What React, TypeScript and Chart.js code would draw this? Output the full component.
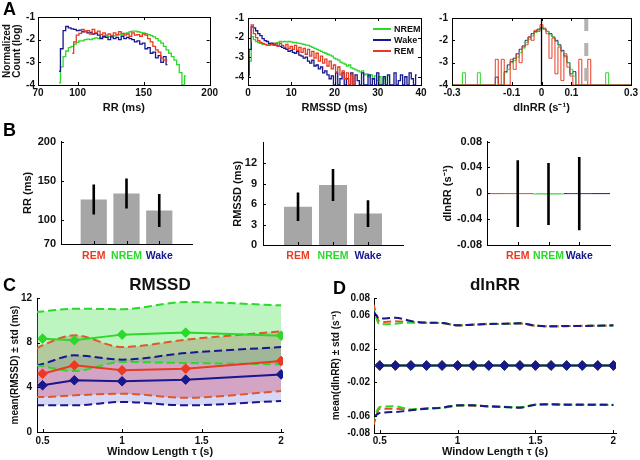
import React, { useEffect, useRef } from 'react';
import { Chart, registerables } from 'chart.js';

Chart.register(...registerables);

const NARROW = "'Liberation Sans Narrow','Arial Narrow','Liberation Sans',Arial,sans-serif";
const SANS = "'Liberation Sans',Arial,Helvetica,sans-serif";
const INK = '#111111';

const RED = '#ea3a22';
const GREEN = '#2bd82b';
const BLUE = '#17178e';
const BAR_GRAY = '#a6a6a6';

const STATES = ['REM', 'NREM', 'Wake'];
const STATE_COLORS = [RED, GREEN, BLUE];

// ---------- Panel A: histograms (log10 normalized count) ----------
const RR_BIN_START = 84;
const RR_BIN_WIDTH = 2;
const RR_HIST_WAKE = [null, -3.4, -2.4, -1.6, -1.42, -1.48, -1.52, -1.55, -1.6, -1.58, -1.65, -1.62, -1.7, -1.68, -1.75, -1.72, -1.8, -1.95, -1.85, -1.9, -2.0, -1.88, -1.95, -1.9, -2.0, -1.85, -1.95, -1.9, -1.95, -2.0, -2.1, -2.05, -2.2, -2.15, -2.4, -2.35, -2.6, -2.55, -2.8, -2.7, -3.0, -2.75, -3.1, null, null, null, null, null, null, null, null];
const RR_HIST_NREM = [null, -3.9, -3.2, -2.75, -2.5, -2.35, -2.3, -2.2, -2.12, -2.05, -2.05, -2.0, -1.98, -2.0, -1.95, -1.92, -1.95, -1.9, -1.9, -1.88, -1.86, -1.85, -1.83, -1.8, -1.78, -1.75, -1.72, -1.7, -1.65, -1.62, -1.62, -1.65, -1.68, -1.7, -1.74, -1.78, -1.82, -1.88, -1.95, -2.05, -2.15, -2.3, -2.45, -2.6, -2.75, -2.9, -3.1, -3.45, null, -3.6, null];
const RR_HIST_REM = [null, null, null, null, null, null, -2.6, -2.1, -1.8, -1.72, -1.55, -1.65, -1.6, -1.75, -1.55, -1.7, -1.62, -1.78, -1.7, -1.8, -1.75, -1.82, -1.7, -1.78, -1.65, -1.72, -1.8, -1.75, -1.85, -1.7, -1.8, -1.78, -1.85, -1.75, -1.8, -1.95, -2.1, -2.3, -2.45, -2.55, -2.8, -2.9, -2.9, null, null, null, null, null, null, null, null];
const RR_TICKS = [70, 100, 150, 200];

const RMSSD_BIN_START = 0;
const RMSSD_BIN_WIDTH = 0.5;
const RMSSD_HIST_WAKE = [
  -3.9, -2.6, -1.45, -1.5, -1.65, -1.8, -1.9, -2.05, -2.15, -2.2,
  -2.3, -2.28, -2.35, -2.38, -2.42, -2.45, -2.5, -2.55, -2.6, -2.7,
  -2.65, -2.75, -2.8, -2.7, -2.9, -2.95, -3.05, -3.0, -3.2, -3.3,
  -3.15, -3.45, -3.4, -3.6, -3.5, -3.8, -3.7, -3.9, -4.1, -3.95,
  null, -3.8, null, -4.1, -3.8, null, -4.1, null, -3.8, null,
  -3.9, -4.2, null, -3.8, null, null, -3.9, null, -4.1, null,
  -3.8, null, null, -4.0, null, -3.9, null, null, -3.8, null,
  -4.2, -3.9, null, -4.0, null, -3.8, -4.1, null, -3.9, null,
  null,
];
const RMSSD_HIST_NREM = [
  -4.0, -3.2, -1.95, -2.1, -2.2, -2.25, -2.3, -2.35, -2.35, -2.38,
  -2.35, -2.33, -2.3, -2.28, -2.25, -2.2, -2.22, -2.2, -2.22, -2.2,
  -2.22, -2.25, -2.25, -2.28, -2.3, -2.32, -2.35, -2.38, -2.4, -2.45,
  -2.5, -2.55, -2.6, -2.65, -2.7, -2.75, -2.8, -2.85, -2.9, -2.95,
  -3.05, -3.1, -3.15, -3.25, -3.3, -3.35, -3.45, -3.4, -3.55, -3.6,
  -3.65, -3.7, -3.75, -3.7, -3.9, -3.85, -4.0, -3.9, -4.1, -3.95,
  -4.2, -4.0, null, -4.1, null, -3.95, null, null, null, null,
  null, null, null, null, null, null, null, null, null, null,
  null,
];
const RMSSD_HIST_REM = [
  null, -2.2, -1.35, -1.8, -2.0, -2.15, -2.25, -2.3, -2.35, -2.38,
  -2.4, -2.35, -2.4, -2.3, -2.45, -2.3, -2.4, -2.5, -2.35, -2.55,
  -2.45, -2.6, -2.4, -2.65, -2.5, -2.75, -2.55, -2.85, -2.6, -2.95,
  -2.7, -3.05, -2.8, -3.2, -2.95, -3.3, -3.1, -3.45, -3.2, -3.6,
  -3.4, -3.75, -3.5, -3.9, -3.7, -4.1, -3.8, null, -3.9, null,
  -4.0, null, null, null, null, null, null, null, null, null,
  null, null, null, null, null, null, null, null, null, null,
  null, null, null, null, null, null, null, null, null, null,
  null,
];
const RMSSD_TICKS = [0, 10, 20, 30, 40];

const DLN_BIN_START = -0.3;
const DLN_BIN_WIDTH = 0.01;
const DLN_HIST_NREM = [
  null, null, null, null, -3.45, null, null, null, null, -3.45,
  null, null, null, null, null, null, null, null, -3.45, -3.3,
  -3.0, -2.9, -2.75, -2.55, -2.35, -2.1, -1.95, -1.8, -1.65, -1.55,
  -1.45, -1.5, -1.6, -1.75, -1.85, -2.05, -2.25, -2.5, -2.75, -3.0,
  -3.3, -3.6, null, null, null, null, null, null, null, null,
  null, null, -3.45, null, null, null, null, null, null, null,
  null,
];
const DLN_HIST_WAKE = [
  null, null, null, null, null, null, null, null, null, null,
  null, null, null, null, null, -3.65, null, null, -3.4, -3.1,
  -2.95, -2.8, -2.6, -2.4, -2.25, -2.0, -1.85, -1.7, -1.6, -1.5,
  -1.45, -1.5, -1.6, -1.7, -1.85, -2.0, -2.2, -2.45, -2.7, -3.0,
  -3.5, -3.4, null, null, null, null, null, null, null, null,
  null, null, null, null, null, null, null, null, null, null,
  null,
];
const DLN_HIST_REM = [
  null, null, null, null, null, null, null, null, null, null,
  null, null, null, null, null, -2.85, null, -2.85, null, null,
  -2.85, -3.3, -2.6, -3.0, -2.3, -2.2, -1.85, -2.0, -1.55, -1.6,
  -1.3, -1.45, -1.7, -2.8, -1.9, -3.5, -2.3, -3.8, -2.6, -3.2,
  -3.6, null, null, -2.85, null, null, -2.85, null, null, null,
  null, null, null, null, null, null, null, null, null, null,
  null,
];
const DLN_TICKS = [-0.3, -0.1, 0, 0.1, 0.3];
const DLN_ZERO = 0;
const DLN_THRESHOLD = 0.15;
const LOG_TICKS = [-1, -2, -3, -4];

// ---------- Panel B: mean ± std per state ----------
const RR_MEAN = [126.5, 134, 112.5];
const RR_STD = [19, 19, 21];
const RMSSD_MEAN = [5.6, 8.8, 4.6];
const RMSSD_STD = [2.1, 2.35, 1.95];
const DLN_MEAN = [-0.0005, -0.001, -0.0005];
const DLN_STD = [0.0515, 0.048, 0.0565];
const B_RR_TICKS = [70, 100, 150, 200];
const B_RMSSD_TICKS = [0, 3, 6, 9, 12];
const B_DLN_TICKS = [-0.08, -0.04, 0, 0.04, 0.08];

// ---------- Panel C: RMSSD vs window length ----------
const TAU_C = [0.5, 0.7, 1.0, 1.4, 2.0];
const TAU_C_STD = [0.46, 0.5, 0.7, 1.0, 1.4, 2.0];
const C_MEAN_REM = [5.22, 5.97, 5.52, 5.67, 6.36];
const C_MEAN_NREM = [8.36, 8.21, 8.72, 8.9, 8.63];
const C_MEAN_WAKE = [4.18, 4.63, 4.54, 4.69, 5.16];
const C_UP_REM = [7.46, 7.76, 8.66, 7.61, 8.27, 9.01];
const C_LO_REM = [3.13, 3.13, 3.28, 3.43, 3.07, 3.67];
const C_UP_NREM = [10.75, 10.8, 11.04, 11.0, 11.64, 11.34];
const C_LO_NREM = [5.97, 5.88, 5.46, 6.27, 6.18, 6.06];
const C_UP_WAKE = [5.97, 6.1, 6.87, 6.48, 7.07, 7.61];
const C_LO_WAKE = [2.39, 2.39, 2.39, 2.69, 2.39, 2.78];
const C_Y_TICKS = [0, 4, 8, 12];
const TAU_TICKS = [0.5, 1, 1.5, 2];

// ---------- Panel D: dlnRR vs window length ----------
const TAU_D = [0.5, 0.6, 0.7, 0.8, 0.9, 1.0, 1.1, 1.2, 1.3, 1.4, 1.5, 1.6, 1.7, 1.8, 1.9, 2.0];
const TAU_D_STD = [0.46, 0.5, 0.6, 0.7, 0.8, 0.9, 1.0, 1.1, 1.2, 1.3, 1.4, 1.5, 1.6, 1.7, 1.8, 1.9, 2.0];
const D_MEAN_REM = [0, 0, 0, 0, 0, 0, 0, 0, 0, 0, 0, 0, 0, 0, 0, 0];
const D_MEAN_NREM = [0, 0, 0, 0, 0, 0, 0, 0, 0, 0, 0, 0, 0, 0, 0, 0];
const D_MEAN_WAKE = [0, 0, 0, 0, 0, 0, 0, 0, 0, 0, 0, 0, 0, 0, 0, 0];
const D_UP_WAKE = [0.064, 0.0555, 0.0567, 0.0527, 0.0508, 0.0504, 0.0476, 0.0484, 0.0492, 0.0496, 0.05, 0.0472, 0.0464, 0.0468, 0.0468, 0.0472, 0.0476];
const D_UP_REM = [0.072, 0.0516, 0.0523, 0.051, 0.0506, 0.0502, 0.0474, 0.0486, 0.049, 0.0494, 0.0498, 0.047, 0.0466, 0.0466, 0.047, 0.047, 0.0474];
const D_UP_NREM = [0.066, 0.0488, 0.0496, 0.0512, 0.0505, 0.0503, 0.0478, 0.0482, 0.0494, 0.0492, 0.0502, 0.0474, 0.0462, 0.0467, 0.0469, 0.0471, 0.0475];
const D_LO_WAKE = [-0.061, -0.0563, -0.0551, -0.0531, -0.0512, -0.05, -0.0472, -0.0472, -0.0484, -0.0492, -0.05, -0.0464, -0.046, -0.0464, -0.0464, -0.0464, -0.0468];
const D_LO_REM = [-0.07, -0.0512, -0.0512, -0.0525, -0.051, -0.0498, -0.0474, -0.0476, -0.0482, -0.049, -0.0498, -0.0466, -0.0462, -0.0466, -0.0462, -0.0466, -0.0466];
const D_LO_NREM = [-0.063, -0.0492, -0.0484, -0.052, -0.0508, -0.0502, -0.0476, -0.047, -0.0486, -0.0494, -0.0496, -0.0462, -0.0458, -0.0462, -0.0466, -0.0462, -0.047];
const D_Y_TICKS = [-0.08, -0.06, -0.02, 0.02, 0.06, 0.08];

// ---------- helpers ----------
type Pt = { x: number; y: number };

function histPoints(start: number, width: number, values: (number | null)[], floor: number, fillAll = false): Pt[] {
  let first = values.findIndex((v) => v !== null);
  let last = values.length - 1 - [...values].reverse().findIndex((v) => v !== null);
  if (fillAll) { first = 0; last = values.length - 1; }
  const pts: Pt[] = [];
  for (let i = first; i <= last; i++) {
    const v = values[i];
    pts.push({ x: +(start + i * width).toFixed(4), y: v === null ? floor : v });
  }
  return pts;
}

function pairs(xs: number[], ys: number[]): Pt[] {
  return xs.map((x, i) => ({ x, y: ys[i] }));
}

const font = (family: string, size: number, lineHeight = 1.2) => ({ family, size, weight: 'bold' as const, lineHeight });

function axis(o: any) {
  const horizontal = o.position === 'bottom';
  return {
    type: 'linear',
    position: o.position,
    min: o.min,
    max: o.max,
    offset: false,
    afterBuildTicks: (s: any) => { s.ticks = o.ticks.map((v: number) => ({ value: v })); },
    afterFit: (s: any) => { if (horizontal) s.height = o.size; else s.width = o.size; },
    grid: { display: false, drawTicks: false },
    border: { display: o.border !== false, color: '#000', width: 1 },
    ticks: {
      autoSkip: false, maxRotation: 0, minRotation: 0,
      padding: o.tickPad, font: o.tickFont, color: o.tickColor ?? INK,
      callback: o.format ?? ((v: number) => String(v)),
    },
    title: o.title
      ? { display: true, text: o.title, font: o.titleFont, padding: o.titlePad, color: INK }
      : { display: false },
  };
}

const innerTicks = {
  id: 'innerTicks',
  afterDatasetsDraw(chart: any, _args: any, opts: any) {
    const { ctx, chartArea: a, scales } = chart;
    const len = 3;
    ctx.save();
    ctx.strokeStyle = '#000';
    ctx.lineWidth = 1;
    ctx.beginPath();
    for (const t of scales.x.ticks) {
      const px = Math.round(scales.x.getPixelForValue(t.value)) + 0.5;
      ctx.moveTo(px, a.bottom); ctx.lineTo(px, a.bottom - len);
      if (opts.box) { ctx.moveTo(px, a.top); ctx.lineTo(px, a.top + len); }
    }
    for (const t of scales.y.ticks) {
      const py = Math.round(scales.y.getPixelForValue(t.value)) + 0.5;
      ctx.moveTo(a.left, py); ctx.lineTo(a.left + len, py);
      if (opts.box) { ctx.moveTo(a.right, py); ctx.lineTo(a.right - len, py); }
    }
    ctx.stroke();
    if (opts.box) {
      ctx.strokeRect(Math.round(a.left) + 0.5, Math.round(a.top) + 0.5, Math.round(a.right - a.left), Math.round(a.bottom - a.top));
    }
    ctx.restore();
  },
};

const errorBars = {
  id: 'errorBars',
  afterDatasetsDraw(chart: any, _args: any, opts: any) {
    if (!opts.means) return;
    const { ctx, scales } = chart;
    ctx.save();
    ctx.strokeStyle = '#000';
    ctx.lineWidth = 2.6;
    ctx.beginPath();
    opts.means.forEach((m: number, i: number) => {
      const px = scales.x.getPixelForValue(i + 1);
      ctx.moveTo(px, scales.y.getPixelForValue(m - opts.stds[i]));
      ctx.lineTo(px, scales.y.getPixelForValue(m + opts.stds[i]));
    });
    ctx.stroke();
    ctx.restore();
  },
};

const histDs = (label: string, data: Pt[], color: string, width = 1.3) => ({
  type: 'line', label, data, borderColor: color, backgroundColor: color,
  borderWidth: width, pointRadius: 0, stepped: 'middle', fill: false, spanGaps: false,
});

const baseOptions = (padding: any, plugins: any, scales: any) => ({
  responsive: false,
  maintainAspectRatio: false,
  animation: false,
  events: [],
  layout: { padding },
  plugins: { legend: { display: false }, tooltip: { enabled: false }, ...plugins },
  scales,
});

// geometry: canvas box from chart area
function geom(L: number, T: number, R: number, B: number, yW: number, xH: number, padR: number, padT: number) {
  const left = L - yW;
  const top = T - padT;
  return { left, top, width: R + padR - left, height: B + xH - top };
}

// ---------- panel configs ----------
function panelA1() {
  const g = geom(38, 16, 210, 85, 38, 32, 10, 8);
  const floor = -4;
  return {
    ...g,
    config: {
      type: 'line',
      data: {
        datasets: [
          histDs('REM', histPoints(RR_BIN_START, RR_BIN_WIDTH, RR_HIST_REM, floor), RED),
          histDs('Wake', histPoints(RR_BIN_START, RR_BIN_WIDTH, RR_HIST_WAKE, floor), BLUE),
          histDs('NREM', histPoints(RR_BIN_START, RR_BIN_WIDTH, RR_HIST_NREM, floor), GREEN),
        ],
      },
      options: baseOptions({ left: 0, top: 8, right: 10, bottom: 0 }, { innerTicks: { box: true } }, {
        x: axis({ position: 'bottom', min: 70, max: 200, ticks: RR_TICKS, size: 32, border: false, tickPad: 2, tickFont: font(NARROW, 10), title: 'RR (ms)', titleFont: font(NARROW, 11), titlePad: { top: 0, bottom: 2 } }),
        y: axis({ position: 'left', min: -4, max: -1, ticks: LOG_TICKS, size: 38, border: false, tickPad: 3, tickFont: font(NARROW, 10), title: ['Normalized', 'Count (log)'], titleFont: font(SANS, 10, 1.0), titlePad: { top: 2, bottom: 0 } }),
      }),
      plugins: [innerTicks],
    },
  };
}

function panelA2() {
  const g = geom(248, 16, 421, 85, 30, 32, 10, 8);
  const floor = -4.42;
  return {
    ...g,
    config: {
      type: 'line',
      data: {
        datasets: [
          histDs('REM', histPoints(RMSSD_BIN_START, RMSSD_BIN_WIDTH, RMSSD_HIST_REM, floor), RED),
          histDs('Wake', histPoints(RMSSD_BIN_START, RMSSD_BIN_WIDTH, RMSSD_HIST_WAKE, floor), BLUE),
          histDs('NREM', histPoints(RMSSD_BIN_START, RMSSD_BIN_WIDTH, RMSSD_HIST_NREM, floor), GREEN),
        ],
      },
      options: baseOptions({ left: 0, top: 8, right: 10, bottom: 0 }, { innerTicks: { box: true } }, {
        x: axis({ position: 'bottom', min: 0, max: 40, ticks: RMSSD_TICKS, size: 32, border: false, tickPad: 2, tickFont: font(NARROW, 10), title: 'RMSSD (ms)', titleFont: font(NARROW, 11), titlePad: { top: 0, bottom: 2 } }),
        y: axis({ position: 'left', min: -4.42, max: -1, ticks: LOG_TICKS, size: 30, border: false, tickPad: 4, tickFont: font(NARROW, 10) }),
      }),
      plugins: [innerTicks],
    },
  };
}

function panelA3() {
  const g = geom(452, 16, 632, 85, 34, 32, 8, 8);
  const yMin = -4;
  const yMax = -1;
  return {
    ...g,
    config: {
      type: 'line',
      data: {
        datasets: [
          { type: 'line', data: [{ x: DLN_THRESHOLD, y: yMax }, { x: DLN_THRESHOLD, y: yMin }], borderColor: '#b2b2b2', borderWidth: 4, borderDash: [13, 12], pointRadius: 0 },
          { type: 'line', data: [{ x: DLN_ZERO, y: yMax }, { x: DLN_ZERO, y: yMin }], borderColor: '#000', borderWidth: 1.3, pointRadius: 0 },
          histDs('REM', histPoints(DLN_BIN_START, DLN_BIN_WIDTH, DLN_HIST_REM, yMin, true), RED, 1),
          histDs('NREM', histPoints(DLN_BIN_START, DLN_BIN_WIDTH, DLN_HIST_NREM, yMin, true), GREEN, 1),
          histDs('Wake', histPoints(DLN_BIN_START, DLN_BIN_WIDTH, DLN_HIST_WAKE, yMin, true), BLUE, 1),
        ],
      },
      options: baseOptions({ left: 0, top: 8, right: 8, bottom: 0 }, { innerTicks: { box: true } }, {
        x: axis({ position: 'bottom', min: -0.3, max: 0.3, ticks: DLN_TICKS, size: 32, border: false, tickPad: 2, tickFont: font(NARROW, 10), title: 'dlnRR (s⁻¹)', titleFont: font(NARROW, 11), titlePad: { top: 0, bottom: 2 } }),
        y: axis({ position: 'left', min: yMin, max: yMax, ticks: LOG_TICKS, size: 34, border: false, tickPad: 4, tickFont: font(NARROW, 10) }),
      }),
      plugins: [innerTicks],
    },
  };
}

const B_XMIN = 0;
const B_XMAX = 4;

function barPanel(L: number, T: number, R: number, B: number, yW: number, tickPad: number, means: number[], stds: number[], yMin: number, yMax: number, yTicks: number[], yTitle: string, zeroLines: boolean) {
  const g = geom(L, T, R, B, yW, 24, 12, T - 130);
  const datasets: any[] = [
    {
      type: 'bar', data: means.map((m, i) => ({ x: i + 1, y: m })),
      backgroundColor: BAR_GRAY, borderWidth: 0, barPercentage: 0.8, categoryPercentage: 1,
    },
  ];
  if (zeroLines) {
    STATES.forEach((_s, i) => {
      datasets.push({
        type: 'line',
        data: [
          { x: i === 0 ? B_XMIN : i + 0.5, y: means[i] },
          { x: i === STATES.length - 1 ? B_XMAX : i + 1.5, y: means[i] },
        ],
        borderColor: STATE_COLORS[i], borderWidth: 1, pointRadius: 0,
      });
    });
  }
  return {
    ...g,
    config: {
      type: 'bar',
      data: { datasets },
      options: baseOptions({ left: 0, top: T - 130, right: 12, bottom: 0 }, { innerTicks: { box: false }, errorBars: { means, stds } }, {
        x: axis({
          position: 'bottom', min: B_XMIN, max: B_XMAX, ticks: [1, 2, 3], size: 24, tickPad: 256 - B - 6.3,
          tickFont: font(NARROW, 10.5), tickColor: (c: any) => STATE_COLORS[c.index] ?? INK,
          format: (v: number) => STATES[v - 1] ?? '',
        }),
        y: axis({ position: 'left', min: yMin, max: yMax, ticks: yTicks, size: yW, tickPad, tickFont: font(NARROW, 11), title: yTitle, titleFont: font(SANS, 11), titlePad: { top: 3.4, bottom: 0 } }),
      }),
      plugins: [innerTicks, errorBars],
    },
  };
}

const meanDs = (label: string, xs: number[], ys: number[], color: string) => ({
  type: 'line', label, data: pairs(xs, ys), borderColor: color, backgroundColor: color,
  borderWidth: 2, pointStyle: 'rectRot', pointRadius: 4.8, pointBackgroundColor: color, pointBorderColor: color,
  pointBorderWidth: 1, fill: false,
});

const stdDs = (label: string, xs: number[], ys: number[], color: string, fillTarget?: number, fillColor?: string, dashOffset = 0) => ({
  type: 'line', label, data: pairs(xs, ys), borderColor: color,
  backgroundColor: fillColor ?? 'transparent', borderWidth: 2, borderDash: [8, 4], borderDashOffset: dashOffset,
  pointRadius: 0, cubicInterpolationMode: 'monotone',
  fill: fillTarget === undefined ? false : { target: fillTarget },
});

function panelC() {
  const g = { left: 7, top: 275, width: 286, height: 185 };
  return {
    ...g,
    config: {
      type: 'line',
      data: {
        datasets: [
          meanDs('NREM', TAU_C, C_MEAN_NREM, GREEN),
          meanDs('REM', TAU_C, C_MEAN_REM, RED),
          meanDs('Wake', TAU_C, C_MEAN_WAKE, BLUE),
          stdDs('NREM+', TAU_C_STD, C_UP_NREM, GREEN, 4, 'rgba(50,225,60,0.32)'),
          stdDs('NREM-', TAU_C_STD, C_LO_NREM, GREEN),
          stdDs('REM+', TAU_C_STD, C_UP_REM, '#e0582a', 6, 'rgba(205,50,80,0.3)'),
          stdDs('REM-', TAU_C_STD, C_LO_REM, '#e0582a'),
          stdDs('Wake+', TAU_C_STD, C_UP_WAKE, BLUE, 8, 'rgba(70,70,215,0.22)'),
          stdDs('Wake-', TAU_C_STD, C_LO_WAKE, BLUE),
        ],
      },
      options: baseOptions({ left: 0, top: 0, right: 10, bottom: 0 }, {
        innerTicks: { box: false },
        filler: { drawTime: 'beforeDatasetsDraw', propagate: false },
        title: { display: true, text: 'RMSSD', fullSize: false, font: font(NARROW, 17), color: INK, padding: { top: 0, bottom: 2.6 } },
      }, {
        x: axis({ position: 'bottom', min: 0.465, max: 2.012, ticks: TAU_TICKS, size: 28, tickPad: 3.5, tickFont: font(NARROW, 10), title: 'Window Length τ (s)', titleFont: font(NARROW, 11), titlePad: { top: 0, bottom: 1.4 } }),
        y: axis({ position: 'left', min: 0, max: 12, ticks: C_Y_TICKS, size: 30, tickPad: 5, tickFont: font(NARROW, 10), title: 'mean(RMSSD) ± std (ms)', titleFont: font(SANS, 10), titlePad: { top: 2, bottom: 0 } }),
      }),
      plugins: [innerTicks],
    },
  };
}

function panelD() {
  const g = { left: 329, top: 275, width: 299, height: 185 };
  return {
    ...g,
    config: {
      type: 'line',
      data: {
        datasets: [
          meanDs('Wake', TAU_D, D_MEAN_WAKE, BLUE),
          meanDs('NREM', TAU_D, D_MEAN_NREM, GREEN),
          meanDs('REM', TAU_D, D_MEAN_REM, RED),
          stdDs('Wake+', TAU_D_STD, D_UP_WAKE, BLUE),
          stdDs('Wake-', TAU_D_STD, D_LO_WAKE, BLUE),
          stdDs('NREM+', TAU_D_STD, D_UP_NREM, GREEN, undefined, undefined, 5),
          stdDs('NREM-', TAU_D_STD, D_LO_NREM, GREEN, undefined, undefined, 5),
          stdDs('REM+', TAU_D_STD, D_UP_REM, '#e8501e', undefined, undefined, 2),
          stdDs('REM-', TAU_D_STD, D_LO_REM, '#e8501e', undefined, undefined, 2),
        ],
      },
      options: baseOptions({ left: 0, top: 0, right: 12, bottom: 0 }, {
        innerTicks: { box: false },
        title: { display: true, text: 'dlnRR', fullSize: false, font: font(NARROW, 17), color: INK, padding: { top: 0, bottom: 2.6 } },
      }, {
        x: axis({ position: 'bottom', min: 0.463, max: 2.017, ticks: TAU_TICKS, size: 27, tickPad: 2.5, tickFont: font(NARROW, 10), title: 'Window Length τ (s)', titleFont: font(NARROW, 11), titlePad: { top: 0, bottom: 1.4 } }),
        y: axis({ position: 'left', min: -0.08, max: 0.08, ticks: D_Y_TICKS, size: 45, tickPad: 4, tickFont: font(NARROW, 10), title: 'mean(dlnRR) ± std (s⁻¹)', titleFont: font(SANS, 10), titlePad: { top: 1.7, bottom: 0 } }),
      }),
      plugins: [innerTicks],
    },
  };
}

const PANELS = [
  panelA1(),
  panelA2(),
  panelA3(),
  barPanel(61, 140, 192, 244, 43, 5, RR_MEAN, RR_STD, 70, 200, B_RR_TICKS, 'RR (ms)', false),
  barPanel(263, 137, 403, 245, 35, 6, RMSSD_MEAN, RMSSD_STD, 0, 15, B_RMSSD_TICKS, 'RMSSD (ms)', false),
  barPanel(487, 137, 610, 245, 49, 5, DLN_MEAN, DLN_STD, -0.08, 0.08, B_DLN_TICKS, 'dlnRR (s⁻¹)', true),
  panelC(),
  panelD(),
];

const LETTERS = [
  { text: 'A', left: 3, top: 0 },
  { text: 'B', left: 3, top: 121 },
  { text: 'C', left: 3, top: 276 },
  { text: 'D', left: 333, top: 279 },
];

const LEGEND = [
  { label: 'NREM', color: GREEN },
  { label: 'Wake', color: BLUE },
  { label: 'REM', color: RED },
];

export default function App() {
  const refs = useRef<(HTMLCanvasElement | null)[]>([]);

  useEffect(() => {
    Chart.defaults.font.family = NARROW;
    Chart.defaults.color = INK;
    const charts = PANELS.map((p, i) => new Chart(refs.current[i] as HTMLCanvasElement, p.config as any));
    return () => charts.forEach((c) => c.destroy());
  }, []);

  return (
    <div style={{ position: 'fixed', left: 0, top: 0, width: 640, height: 460, background: '#fff', overflow: 'hidden' }}>
      {PANELS.map((p, i) => (
        <canvas
          key={i}
          ref={(el) => { refs.current[i] = el; }}
          width={p.width}
          height={p.height}
          style={{ position: 'absolute', left: p.left, top: p.top, width: p.width, height: p.height }}
        />
      ))}
      {LETTERS.map((l) => (
        <div key={l.text} style={{ position: 'absolute', left: l.left, top: l.top, font: `bold 18px/18px ${NARROW}`, color: '#000' }}>{l.text}</div>
      ))}
      {LEGEND.map((l, i) => (
        <div key={l.label} style={{ position: 'absolute', left: 373, top: 23 + i * 11, height: 12, display: 'flex', alignItems: 'center' }}>
          <div style={{ width: 18, height: 0, borderTop: `2px solid ${l.color}`, marginRight: 3 }} />
          <span style={{ font: `bold 9px/12px ${NARROW}`, color: INK }}>{l.label}</span>
        </div>
      ))}
    </div>
  );
}
